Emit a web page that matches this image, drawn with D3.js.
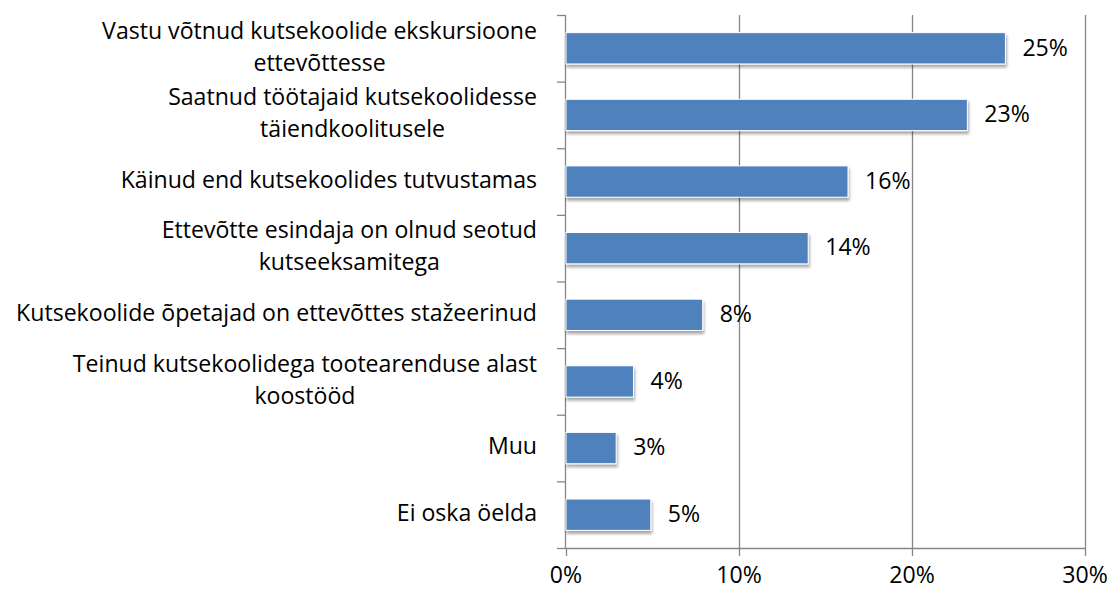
<!DOCTYPE html>
<html><head><meta charset="utf-8">
<script src="https://cdn.jsdelivr.net/npm/d3@7"></script>
<style>html,body{margin:0;padding:0;background:#fff;}svg{display:block;}</style>
</head><body>
<svg id="c" width="1115" height="590"></svg>
<script>
const categories = [
  ["Vastu võtnud kutsekoolide ekskursioone", "ettevõttesse"],
  ["Saatnud töötajaid kutsekoolidesse", "täiendkoolitusele"],
  ["Käinud end kutsekoolides tutvustamas"],
  ["Ettevõtte esindaja on olnud seotud", "kutseeksamitega"],
  ["Kutsekoolide õpetajad on ettevõttes stažeerinud"],
  ["Teinud kutsekoolidega tootearenduse alast", "koostööd"],
  ["Muu"],
  ["Ei oska öelda"]
];
const values = [25.4, 23.2, 16.3, 14.0, 7.9, 3.9, 2.9, 4.9];
const valueLabels = ["25%", "23%", "16%", "14%", "8%", "4%", "3%", "5%"];
const xTicks = [0, 10, 20, 30];

(function () {
const FONT = "'Open Sans', 'Liberation Sans', sans-serif";
const svg = d3.select("#c");
const probe = svg.append("text").attr("font-family", FONT).attr("font-size", 20)
  .text("Kutsekoolide õpetajad on ettevõttes stažeerinud");
const FS = Math.round(20 * 522 / probe.node().getComputedTextLength() * 10) / 10;
probe.remove();

const pL = 566, pR = 1085, pT = 15, pB = 548;
const x = d3.scaleLinear().domain([0, 30]).range([pL, pR]);
const y = d3.scaleBand().domain(d3.range(categories.length)).range([pT, pB]).paddingInner(0.53).paddingOuter(0.265);
const yRow = d3.scaleBand().domain(d3.range(categories.length)).range([pT, pB]);

const defs = svg.append("defs");
const f = defs.append("filter").attr("id", "sh").attr("x", "-10%").attr("y", "-30%").attr("width", "130%").attr("height", "180%");
f.append("feDropShadow").attr("dx", 1).attr("dy", 3).attr("stdDeviation", 1.6).attr("flood-color", "#000").attr("flood-opacity", 0.35);

const gridCol = "#868686";
svg.append("g").selectAll("line").data(xTicks.slice(1)).join("line")
  .attr("x1", d => x(d) + 0.5).attr("x2", d => x(d) + 0.5)
  .attr("y1", pT).attr("y2", pB + 8)
  .attr("stroke", gridCol).attr("stroke-width", 1.3);

svg.append("line").attr("x1", pL).attr("x2", pR).attr("y1", pB + 0.5).attr("y2", pB + 0.5)
  .attr("stroke", gridCol).attr("stroke-width", 1.3);
svg.append("line").attr("x1", pL + 0.5).attr("x2", pL + 0.5).attr("y1", pB).attr("y2", pB + 8)
  .attr("stroke", gridCol).attr("stroke-width", 1.3);
svg.append("g").selectAll("text").data(xTicks).join("text")
  .attr("x", d => x(d)).attr("y", 583).attr("text-anchor", "middle")
  .attr("font-family", FONT).attr("font-size", FS).attr("fill", "#000")
  .text(d => d + "%");

svg.append("line").attr("x1", pL - 0.5).attr("x2", pL - 0.5).attr("y1", pT).attr("y2", pB)
  .attr("stroke", gridCol).attr("stroke-width", 1.3);
const yTickPos = d3.range(categories.length + 1).map(i => pT + i * yRow.step());
svg.append("g").selectAll("line").data(yTickPos).join("line")
  .attr("x1", pL - 9).attr("x2", pL).attr("y1", d => d + 0.5).attr("y2", d => d + 0.5)
  .attr("stroke", gridCol).attr("stroke-width", 1.3);

svg.append("g").selectAll("rect").data(values).join("rect")
  .attr("x", pL).attr("y", (d, i) => y(i))
  .attr("width", d => x(d) - pL).attr("height", y.bandwidth())
  .attr("fill", "#4F81BD").attr("stroke", "#fff").attr("stroke-width", 1)
  .attr("filter", "url(#sh)");

svg.append("g").selectAll("text").data(values).join("text")
  .attr("x", d => x(d) + 17).attr("y", (d, i) => y(i) + y.bandwidth() / 2 + 1)
  .attr("dominant-baseline", "middle")
  .attr("font-family", FONT).attr("font-size", FS).attr("fill", "#000")
  .text((d, i) => valueLabels[i]);

const lineH = 32;
const labelRight = 537;
const cg = svg.append("g");
categories.forEach((lines, i) => {
  const cy = yRow(i) + yRow.bandwidth() / 2;
  const g = cg.append("g");
  const texts = lines.map((t, k) => g.append("text")
    .attr("y", cy + (k - (lines.length - 1) / 2) * lineH)
    .attr("dominant-baseline", "middle")
    .attr("text-anchor", "middle")
    .attr("font-family", FONT).attr("font-size", FS).attr("fill", "#000")
    .text(t));
  const maxW = d3.max(texts, t => t.node().getComputedTextLength());
  texts.forEach(t => t.attr("x", labelRight - maxW / 2));
});
})();
</script>
</body></html>
